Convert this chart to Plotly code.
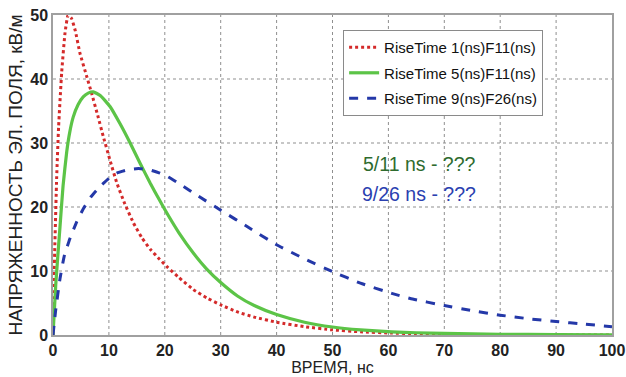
import plotly.graph_objects as go

# Red: RiseTime 1(ns)F11(ns)
red_x = [0, 0.1, 0.3, 0.66, 1.0, 1.55, 2.15, 2.7, 3.3, 4.0, 4.83, 6.0, 6.9, 8.0, 9.0, 10.2, 11.4, 12.8, 14.4, 15.9, 17.4, 19.1, 20.6, 22.5, 25.1, 27.5, 30, 33, 36, 40, 45, 50, 55, 60.6, 65, 70, 80, 90, 100]
red_y = [0, 5, 13, 24.7, 32.5, 41, 47.2, 50, 49.5, 47.5, 44, 40.5, 37.8, 34.3, 31, 27.3, 23.8, 20.6, 17.5, 15.2, 13.4, 11.8, 10.5, 9.0, 7.1, 5.8, 4.7, 3.6, 2.8, 2.0, 1.3, 0.8, 0.5, 0.3, 0.2, 0.12, 0.05, 0.02, 0.0]

# Green: RiseTime 5(ns)F11(ns)
green_x = [0, 0.5, 1.25, 1.8, 2.45, 3.0, 3.6, 4.5, 5.4, 6.3, 7.2, 8.5, 10.2, 12.0, 13.8, 15.6, 17.4, 19.1, 20.6, 22.5, 25.1, 27.5, 30, 33, 36, 40, 45, 50, 55, 60.6, 65, 70, 80, 90, 100]
green_y = [0, 8, 16.9, 23.3, 28.6, 31.7, 34.0, 36.0, 37.2, 37.8, 38.0, 37.4, 35.7, 33.0, 30.0, 26.8, 23.7, 21.0, 18.7, 16.0, 12.8, 10.3, 8.2, 6.1, 4.6, 3.2, 2.0, 1.25, 0.8, 0.5, 0.35, 0.25, 0.12, 0.06, 0.03]

# Blue: RiseTime 9(ns)F26(ns)
blue_x = [0, 0.5, 1.25, 2.0, 3.0, 4.2, 5.4, 6.8, 8.4, 9.9, 11.4, 13.3, 15.3, 17.3, 19.1, 20.6, 23, 26, 30, 35, 40, 45, 50, 55, 60.6, 63.9, 70, 75, 80, 85, 90, 95, 100]
blue_y = [0, 4, 8.8, 12.3, 15.0, 17.6, 19.7, 21.6, 23.2, 24.4, 25.3, 25.8, 26.0, 25.8, 25.3, 24.7, 23.4, 21.7, 19.5, 16.8, 14.1, 11.9, 9.9, 8.1, 6.5, 5.7, 4.6, 3.8, 3.1, 2.55, 2.1, 1.7, 1.3]

names = ["RiseTime 1(ns)F11(ns)", "RiseTime 5(ns)F11(ns)", "RiseTime 9(ns)F26(ns)"]
x_ticks = [0, 10, 20, 30, 40, 50, 60, 70, 80, 90, 100]
y_ticks = [0, 10, 20, 30, 40, 50]
notes = ["5/11 ns - ???", "9/26 ns - ???"]

FONT = "Liberation Sans, Arial"
GRID = dict(color="#8f8f8f", width=1, dash="dot")

fig = go.Figure()

# dotted grid at the tick positions
for v in x_ticks[1:-1]:
    fig.add_shape(type="line", xref="x", yref="paper", x0=v, x1=v, y0=0, y1=1, layer="below", line=GRID)
for v in y_ticks[1:-1]:
    fig.add_shape(type="line", xref="paper", yref="y", x0=0, x1=1, y0=v, y1=v, layer="below", line=GRID)

fig.add_trace(go.Scatter(x=red_x, y=red_y, mode="lines", name=names[0], legendgroup="a",
                         line=dict(color="#d42a2a", width=3, dash="dot", shape="spline", smoothing=0.4)))
fig.add_trace(go.Scatter(x=green_x, y=green_y, mode="lines", name=names[1], legendgroup="b",
                         line=dict(color="#5cc447", width=3.2, shape="spline", smoothing=0.4)))
fig.add_trace(go.Scatter(x=blue_x, y=blue_y, mode="lines", name=names[2], legendgroup="c",
                         line=dict(color="#2438a8", width=3, dash="dash", shape="spline", smoothing=0.4)))

fig.add_annotation(x=0.655, y=0.534, xref="paper", yref="paper", text=notes[0], showarrow=False,
                   font=dict(family=FONT, size=19.5, color="#2e6b2e"))
fig.add_annotation(x=0.655, y=0.441, xref="paper", yref="paper", text=notes[1], showarrow=False,
                   font=dict(family=FONT, size=19.5, color="#2a40b0"))

axis_common = dict(showgrid=False,
                   showline=True, linecolor="#a0a0a0", linewidth=1.5, mirror=True,
                   zeroline=False, ticks="", automargin=False,
                   tickfont=dict(family=FONT, size=16, color="#222222", weight="bold"))

fig.update_xaxes(range=[0, 100], tickvals=x_ticks, ticktext=[str(v) for v in x_ticks],
                 ticklabelstandoff=0,
                 title=dict(text="ВРЕМЯ, нс", font=dict(family=FONT, size=16, color="#222222"), standoff=1),
                 **axis_common)
fig.update_yaxes(range=[0, 50], tickvals=y_ticks, ticktext=[str(v) for v in y_ticks],
                 title=dict(text="НАПРЯЖЕННОСТЬ ЭЛ. ПОЛЯ, кВ/м", font=dict(family=FONT, size=19, color="#222222"), standoff=3),
                 **axis_common)

fig.update_layout(
    width=626, height=377,
    margin=dict(l=53, r=14, t=15, b=42, autoexpand=False),
    paper_bgcolor="white", plot_bgcolor="white",
    legend=dict(x=0.519, y=0.953, xanchor="left", yanchor="top",
                bgcolor="white", bordercolor="#8a8a8a", borderwidth=1,
                traceorder="grouped", tracegroupgap=3,
                font=dict(family=FONT, size=15, color="#111111")),
    showlegend=True,
)

fig.write_html("out.html")
